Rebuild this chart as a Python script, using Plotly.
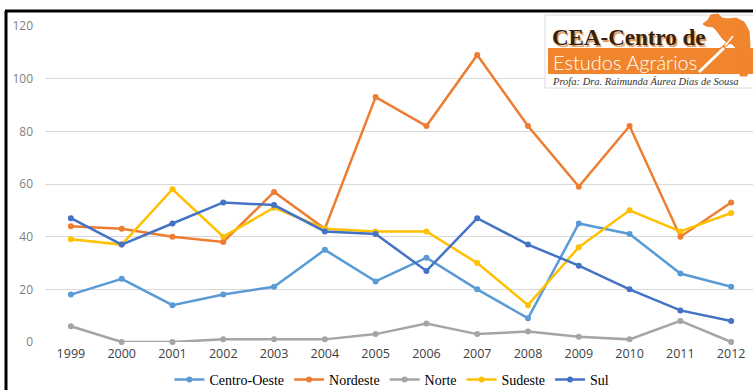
import plotly.graph_objects as go

# Annual counts by region
years = [1999, 2000, 2001, 2002, 2003, 2004, 2005, 2006, 2007, 2008, 2009, 2010, 2011, 2012]
centro_oeste = [18, 24, 14, 18, 21, 35, 23, 32, 20, 9, 45, 41, 26, 21]
nordeste = [44, 43, 40, 38, 57, 43, 93, 82, 109, 82, 59, 82, 40, 53]
norte = [6, 0, 0, 1, 1, 1, 3, 7, 3, 4, 2, 1, 8, 0]
sudeste = [39, 37, 58, 40, 51, 43, 42, 42, 30, 14, 36, 50, 42, 49]
sul = [47, 37, 45, 53, 52, 42, 41, 27, 47, 37, 29, 20, 12, 8]

series = [
    ("Centro-Oeste", centro_oeste, "#5B9BD5"),
    ("Nordeste", nordeste, "#ED7D31"),
    ("Norte", norte, "#A5A5A5"),
    ("Sudeste", sudeste, "#FFC000"),
    ("Sul", sul, "#4472C4"),
]
y_ticks = [0, 20, 40, 60, 80, 100, 120]

W, H = 753, 390
ML, MR, MT, MB = 45, 0, 26, 48
PW, PH = W - ML - MR, H - MT - MB


def px(x):
    return (x - ML) / PW


def py(y):
    return (H - MB - y) / PH


fig = go.Figure()
for name, vals, color in series:
    fig.add_trace(go.Scatter(
        x=years, y=vals, name=name, mode="lines+markers",
        line=dict(color=color, width=2.5),
        marker=dict(color=color, size=6),
        cliponaxis=False,
    ))

shapes = []
# chart frame (left and top edges)
shapes.append(dict(type="line", xref="paper", yref="paper",
                   x0=px(6), y0=py(11), x1=px(6), y1=py(392),
                   line=dict(color="black", width=3)))
shapes.append(dict(type="line", xref="paper", yref="paper",
                   x0=px(5), y0=py(11), x1=px(755), y1=py(11),
                   line=dict(color="black", width=3)))

# logo block
shapes.append(dict(type="rect", xref="paper", yref="paper",
                   x0=px(545), y0=py(15), x1=px(756), y1=py(88),
                   fillcolor="white", line=dict(color="#dcdcdc", width=1)))
shapes.append(dict(type="rect", xref="paper", yref="paper",
                   x0=px(548), y0=py(48), x1=px(756), y1=py(74),
                   fillcolor="#F0852D", line=dict(width=0)))


def path_from(points, close=True):
    d = "M " + " L ".join(f"{px(a):.5f},{py(b):.5f}" for a, b in points)
    return d + (" Z" if close else "")


orange = "#F0852D"
# farmer silhouette: hat, bent back and legs
figure_pts = [(703, 24), (708, 20), (711, 15), (718, 14), (722, 18), (728, 19), (736, 18),
              (744, 22), (749, 31), (750, 46), (748, 60), (747, 76), (740, 76), (741, 60),
              (738, 50), (732, 44), (727, 43), (722, 38), (717, 31), (713, 27), (706, 26)]
shapes.append(dict(type="path", xref="paper", yref="paper", path=path_from(figure_pts),
                   fillcolor=orange, line=dict(color=orange, width=1)))
# hoe handle
shapes.append(dict(type="line", xref="paper", yref="paper",
                   x0=px(740), y0=py(33), x1=px(720), y1=py(50),
                   line=dict(color=orange, width=3)))
shapes.append(dict(type="line", xref="paper", yref="paper",
                   x0=px(724), y0=py(48), x1=px(699), y1=py(72),
                   line=dict(color="white", width=3)))
shapes.append(dict(type="line", xref="paper", yref="paper",
                   x0=px(733), y0=py(36), x1=px(725), y1=py(46),
                   line=dict(color="white", width=1.5)))

annotations = [
    dict(text="<b>CEA-Centro de</b>", x=px(629), y=py(38), xref="paper", yref="paper",
         showarrow=False,
         font=dict(family="Liberation Serif", size=23, color="#3A1F0C",
                   shadow="1.5px 1.5px 1px #D9955A"),
         xanchor="center", yanchor="middle"),
    dict(text="Estudos Agrários", x=px(551), y=py(62), xref="paper", yref="paper",
         showarrow=False, font=dict(family="Lato", size=20, color="white", weight=300),
         xanchor="left", yanchor="middle"),
    dict(text="<i>Profa: Dra. Raimunda Áurea Dias de Sousa</i>", x=px(550), y=py(81),
         xref="paper", yref="paper", showarrow=False,
         font=dict(family="Liberation Serif", size=10.5, color="#333333"),
         xanchor="left", yanchor="middle"),
]

fig.update_layout(
    width=W, height=H,
    margin=dict(l=ML, r=MR, t=MT, b=MB, autoexpand=False),
    paper_bgcolor="white", plot_bgcolor="white",
    showlegend=True,
    legend=dict(orientation="h", x=0.49, xanchor="center", y=py(380), yanchor="middle",
                font=dict(family="Liberation Serif", size=14, color="#000000"),
                itemwidth=30, tracegroupgap=0, bgcolor="rgba(0,0,0,0)"),
    xaxis=dict(range=[1998.49, 2012.43], tickvals=years, ticktext=[str(y) for y in years],
               showgrid=False, zeroline=False, showline=False, ticks="",
               tickfont=dict(family="Open Sans", size=12.5, color="#404040"),
               ticklabelstandoff=2, fixedrange=True),
    yaxis=dict(range=[0, 120], tickvals=y_ticks, showgrid=True, gridcolor="#D9D9D9",
               gridwidth=1, zeroline=False, showline=False, ticks="",
               tickfont=dict(family="Open Sans", size=12, color="#7F7F7F"),
               ticklabelstandoff=11, fixedrange=True),
    shapes=shapes,
    annotations=annotations,
)

fig.write_html("out.html")
